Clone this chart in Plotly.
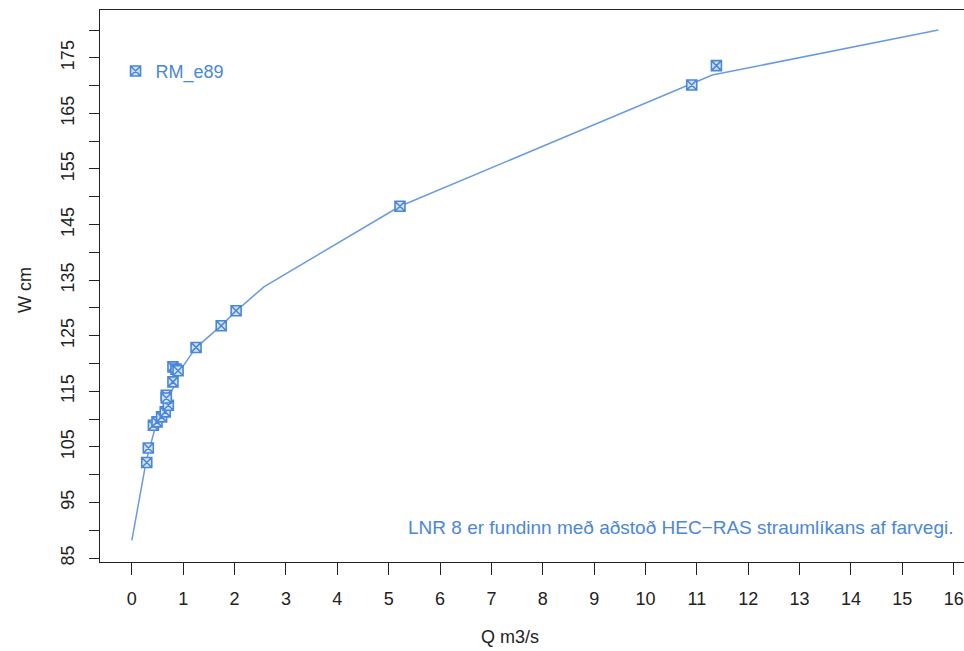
import plotly.graph_objects as go

# Measured points (Q m3/s, W cm)
q_obs = [0.29, 0.32, 0.42, 0.49, 0.58, 0.65, 0.71, 0.67, 0.67, 0.80, 0.80, 0.86, 0.90,
         1.25, 1.74, 2.03, 5.22, 10.9, 11.38]
w_obs = [102.2, 104.8, 108.9, 109.5, 110.4, 111.3, 112.5, 114.3, 113.8, 116.7, 119.4, 119.0, 118.7,
         122.9, 126.8, 129.5, 148.3, 170.1, 173.6]

# Rating curve
q_curve = [0.0, 0.28, 0.45, 0.6, 0.75, 0.9, 1.0, 1.25, 1.5, 1.75, 2.0, 2.57, 5.22, 11.3, 15.7]
w_curve = [88.2, 102.5, 108.3, 111.5, 114.6, 117.6, 119.6, 122.9, 124.9, 126.9, 129.2, 133.8, 148.3, 171.9, 180.0]

x_ticks = list(range(0, 17))
y_ticks = list(range(85, 185, 5))
y_ticktext = [str(v) if (v - 85) % 10 == 0 and v <= 175 else "" for v in y_ticks]

series_name = "RM_e89"
note = "LNR 8 er fundinn með aðstoð HEC\u2212RAS straumlíkans af farvegi."
x_title = "Q m3/s"
y_title = "W cm"

blue = "#4a87d8"
font = "Liberation Sans, Arial, sans-serif"

fig = go.Figure()
fig.add_trace(go.Scatter(x=q_curve, y=w_curve, mode="lines",
                         line=dict(color="#6a9be0", width=1.5), showlegend=False, hoverinfo="skip"))
fig.add_trace(go.Scatter(x=q_obs, y=w_obs, mode="markers", name=series_name,
                         marker=dict(symbol="square-x", size=10, color="#d3e3f8",
                                     line=dict(color=blue, width=1.6))))

fig.update_layout(
    width=964, height=651,
    margin=dict(l=100, r=0, t=10, b=89),
    paper_bgcolor="white", plot_bgcolor="white",
    font=dict(family=font, size=18, color="#222222"),
    showlegend=True,
    legend=dict(x=0.018, y=0.889, xanchor="left", yanchor="middle", bgcolor="rgba(0,0,0,0)",
                font=dict(color=blue, size=18, family=font), itemwidth=30),
    xaxis=dict(range=[-0.62, 16.2], tickvals=x_ticks, ticks="outside", ticklen=12,
               tickwidth=1, tickcolor="#222", showline=True, linecolor="#222", linewidth=1.2,
               mirror=True, showgrid=False, zeroline=False, ticklabelstandoff=8),
    yaxis=dict(range=[84.3, 183.6], tickvals=y_ticks, ticktext=y_ticktext, ticks="outside",
               ticklen=10, tickwidth=1, tickcolor="#222", showline=True, linecolor="#222",
               linewidth=1.2, mirror=False, showgrid=False, zeroline=False, tickangle=-90,
               ticklabelstandoff=8),
    annotations=[
        dict(text=note, x=955, y=527, xref="paper", yref="paper", showarrow=False,
             font=dict(color=blue, size=19, family=font), xanchor="right", yanchor="middle"),
        dict(text=x_title, x=510, y=637, showarrow=False, font=dict(size=18, family=font, color="#222"),
             xanchor="center", yanchor="middle"),
        dict(text=y_title, x=25, y=290, showarrow=False, textangle=-90,
             font=dict(size=18, family=font, color="#222"), xanchor="center", yanchor="middle"),
    ],
)

# convert pixel positions of annotations to paper coordinates
pw, ph = 964 - 100 - 0, 651 - 10 - 89
for a in fig.layout.annotations:
    a.x = (a.x - 100) / pw
    a.y = (651 - 89 - a.y) / ph
    a.xref = "paper"
    a.yref = "paper"

fig.write_html("out.html")
